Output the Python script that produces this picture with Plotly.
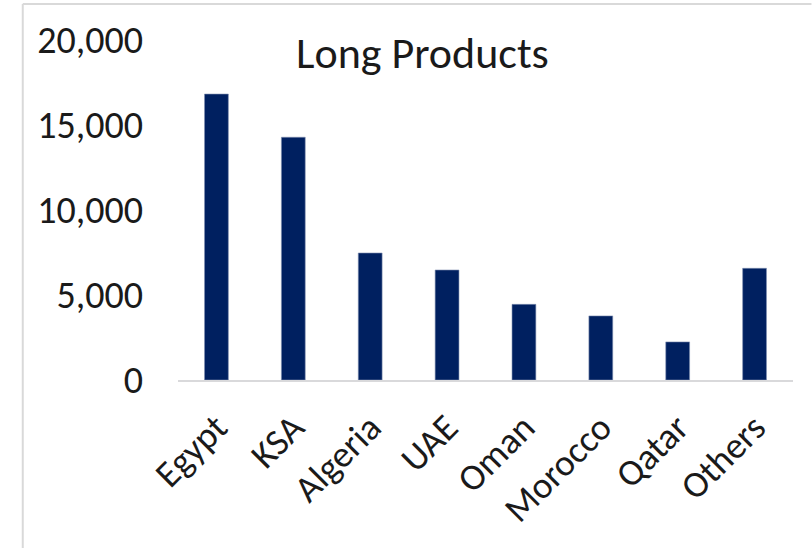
import plotly.graph_objects as go

categories = ["Egypt", "KSA", "Algeria", "UAE", "Oman", "Morocco", "Qatar", "Others"]
values = [16820, 14280, 7470, 6470, 4450, 3770, 2240, 6570]
y_ticks = [0, 5000, 10000, 15000, 20000]
y_tick_labels = ["0", "5,000", "10,000", "15,000", "20,000"]
title_text = "Long Products"

W, H = 812, 548
L, R, T, B = 177.5, 18.5, 40, 168
pw, ph = W - L - R, H - T - B

def px_x(px):
    return (px - L) / pw

def px_y(py):
    return 1 - (py - T) / ph

FONT = "Carlito, Lato, sans-serif"

fig = go.Figure(go.Bar(
    x=categories, y=values,
    marker=dict(color="#002060", line=dict(color="#7f8fb0", width=0.6)),
    width=0.31,
))

fig.update_layout(
    width=W, height=H,
    margin=dict(l=L, r=R, t=T, b=B, pad=0, autoexpand=False),
    paper_bgcolor="white", plot_bgcolor="white",
    showlegend=False,
    font=dict(family=FONT, color="#1a1a1a"),
    xaxis=dict(
        tickangle=-45, tickfont=dict(size=37, family=FONT, color="#1a1a1a"),
        showline=True, linecolor="#d9d9db", linewidth=2,
        showgrid=False, ticks="", ticklabelstandoff=9, automargin=False,
    ),
    yaxis=dict(
        range=[0, 20000], tickvals=y_ticks, ticktext=y_tick_labels,
        tickfont=dict(size=38, family=FONT, color="#1a1a1a"),
        showgrid=False, zeroline=False, showline=False, ticks="",
        ticklabelstandoff=34, automargin=False,
    ),
    annotations=[dict(
        text=title_text, xref="paper", yref="paper",
        x=px_x(422), y=px_y(53), xanchor="center", yanchor="middle",
        showarrow=False, font=dict(size=44, family=FONT, color="#1a1a1a"),
    )],
    shapes=[
        dict(type="line", xref="paper", yref="paper",
             x0=px_x(22), x1=px_x(812), y0=px_y(4), y1=px_y(4),
             line=dict(color="#d9d9d9", width=2)),
        dict(type="line", xref="paper", yref="paper",
             x0=px_x(22), x1=px_x(22), y0=px_y(4), y1=px_y(548),
             line=dict(color="#d9d9d9", width=2)),
    ],
)

fig.write_html("out.html")
